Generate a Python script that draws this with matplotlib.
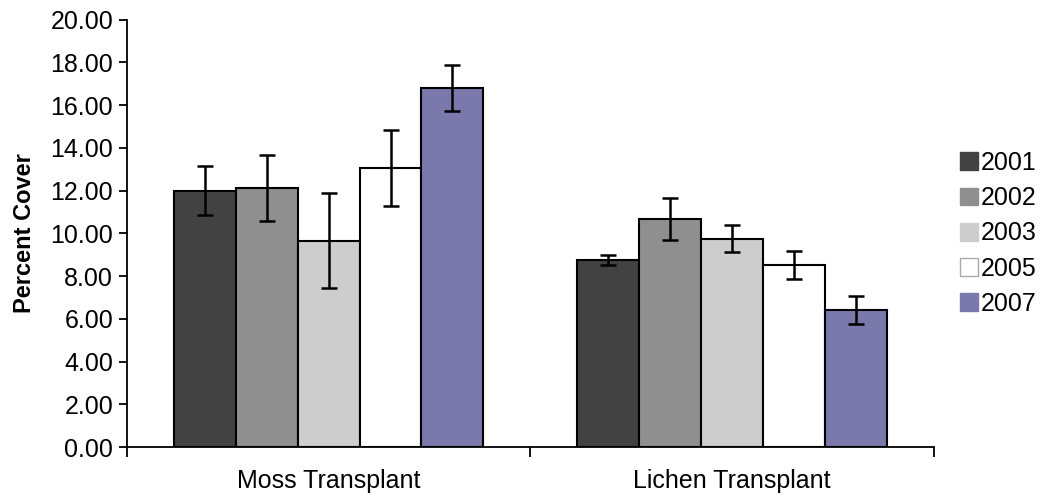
import numpy as np
import matplotlib.pyplot as plt
from matplotlib.patches import Patch

plt.rcParams['font.family'] = ['Liberation Sans', 'DejaVu Sans']

# Mean percent cover and standard error for each transplant type and year
groups = ["Moss Transplant", "Lichen Transplant"]
years = ["2001", "2002", "2003", "2005", "2007"]
cover_2001 = [12.00, 8.76]
cover_2002 = [12.12, 10.66]
cover_2003 = [9.65, 9.76]
cover_2005 = [13.05, 8.52]
cover_2007 = [16.80, 6.42]
err_2001 = [1.15, 0.25]
err_2002 = [1.56, 0.99]
err_2003 = [2.22, 0.64]
err_2005 = [1.79, 0.67]
err_2007 = [1.07, 0.67]

means = [cover_2001, cover_2002, cover_2003, cover_2005, cover_2007]
errors = [err_2001, err_2002, err_2003, err_2005, err_2007]
colors = ["#424242", "#8f8f8f", "#cdcdcd", "#ffffff", "#7b79ac"]

fig = plt.figure(figsize=(10.41, 4.94), dpi=100)
ax = fig.add_axes([0.122, 0.095, 0.775, 0.865])

x = np.arange(len(groups))
width = 0.1533
for i, (yr, m, e, c) in enumerate(zip(years, means, errors, colors)):
    pos = x + (i - 2) * width
    ax.bar(pos, m, width, color=c, edgecolor="black", linewidth=1.5, zorder=2)
    ax.errorbar(pos, m, yerr=e, fmt="none", ecolor="black", elinewidth=1.8,
                capsize=6, capthick=1.8, zorder=3)

ax.set_xlim(-0.5, 1.5)
ax.set_ylim(0, 20)
ax.set_yticks(np.arange(0, 20.01, 2))
ax.set_yticklabels([f"{v:.2f}" for v in np.arange(0, 20.01, 2)], fontsize=18)
ax.set_xticks(x)
ax.set_xticklabels(groups, fontsize=18)
ax.tick_params(axis="x", length=0, pad=16)
ax.set_xticks([-0.5, 0.5, 1.5], minor=True)
ax.tick_params(axis="x", which="minor", length=7, width=1.3, direction="out")
ax.tick_params(axis="y", length=6, width=1.3, direction="out", pad=4)

for side in ["top", "right"]:
    ax.spines[side].set_visible(False)
ax.spines["left"].set_linewidth(1.3)
ax.spines["bottom"].set_linewidth(1.3)

ax.set_ylabel("Percent Cover", fontsize=17, fontweight="bold", labelpad=10)

# legend swatches without the black outline (white one gets a light grey edge)
handles = [Patch(facecolor=c, edgecolor=("#aaaaaa" if c == "#ffffff" else c), linewidth=1)
           for c in colors]
ax.legend(handles, years, loc="center left", bbox_to_anchor=(1.033, 0.5), frameon=False,
          fontsize=18, borderpad=0, borderaxespad=0, handlelength=0.72, handleheight=0.72,
          handletextpad=0.1, labelspacing=0.45)

fig.savefig("out.png", dpi=100)
